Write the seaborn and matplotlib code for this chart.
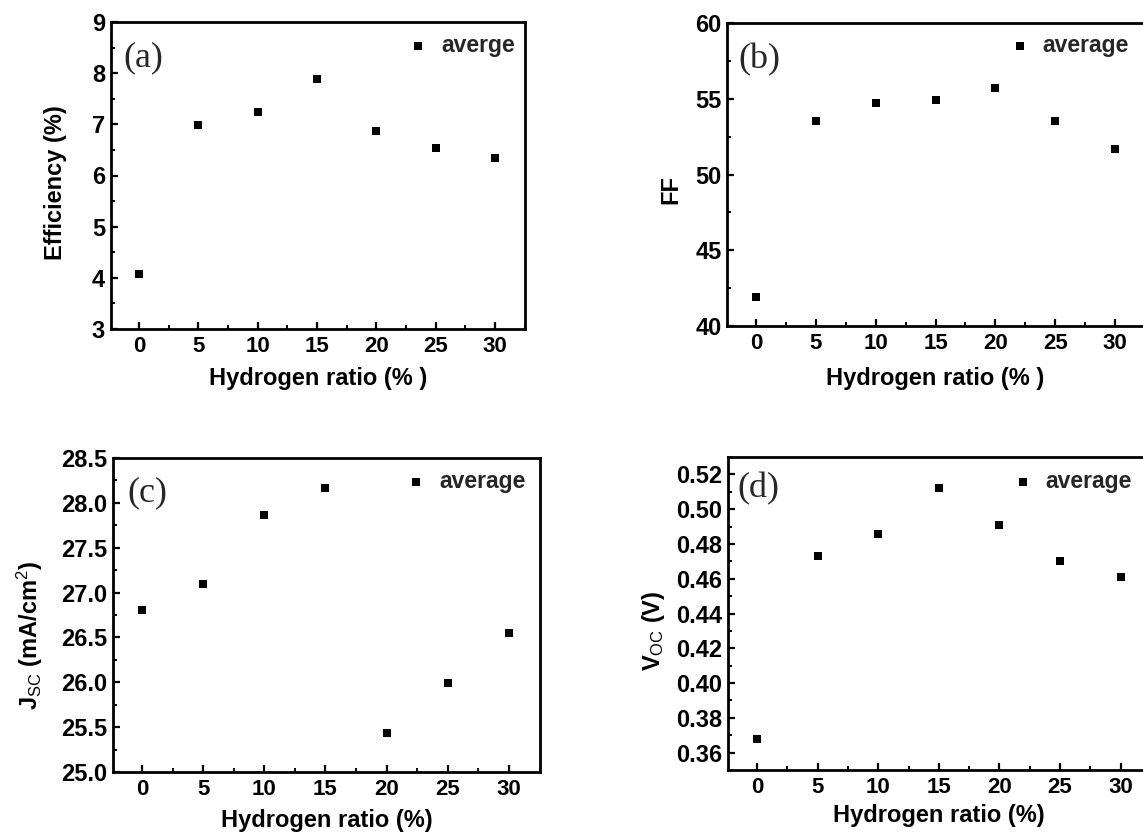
import numpy as np
import pandas as pd
import seaborn as sns
import matplotlib
matplotlib.use("Agg")
import matplotlib.pyplot as plt
from matplotlib.ticker import MultipleLocator, FormatStrFormatter

# ---------------- data ----------------
hydrogen = [0, 5, 10, 15, 20, 25, 30]
efficiency = [4.07, 6.98, 7.25, 7.89, 6.87, 6.53, 6.35]
fill_factor = [41.9, 53.5, 54.7, 54.9, 55.7, 53.5, 51.7]
jsc = [26.81, 27.10, 27.87, 28.17, 25.44, 25.99, 26.55]
voc = [0.368, 0.473, 0.486, 0.512, 0.491, 0.470, 0.461]

panel_tags = ["(a)", "(b)", "(c)", "(d)"]
legend_labels = ["averge", "average", "average", "average"]
xlabels = ["Hydrogen ratio (% )", "Hydrogen ratio (% )", "Hydrogen ratio (%)", "Hydrogen ratio (%)"]
ylabels = ["Efficiency (%)", "FF",
           r"$\mathbf{J}_{\rm SC}$ (mA/cm$^{\rm 2}$)",
           r"$\mathbf{V}_{\rm OC}$ (V)"]

sns.set_theme(style="white")
plt.rcParams["font.family"] = ["Liberation Sans", "DejaVu Sans"]
plt.rcParams["mathtext.fontset"] = "custom"
plt.rcParams["mathtext.rm"] = "Liberation Sans"
plt.rcParams["mathtext.bf"] = "Liberation Sans:bold"
plt.rcParams["mathtext.it"] = "Liberation Sans:italic"

W, H = 1143, 834
fig = plt.figure(figsize=(W / 100, H / 100), dpi=100)
fig.patch.set_facecolor("white")


def add_px_axes(left, right, top, bottom):
    return fig.add_axes([left / W, 1 - bottom / H, (right - left) / W, (bottom - top) / H])


panels = [
    dict(box=(110.5, 524.7, 22, 329), y=efficiency, ylim=(3, 9), major=1, minor=0.5, fmt="%d",
         leg=(0.715, 0.925), tag=(0.030, 0.883), ylc=(-0.133, 0.476), xlc=(0.501, -0.16)),
    dict(box=(727.3, 1145.0, 23, 326), y=fill_factor, ylim=(40, 60), major=5, minor=2.5, fmt="%d",
         leg=(0.673, 0.927), tag=(0.026, 0.878), ylc=(-0.135, 0.45), xlc=(0.497, -0.172)),
    dict(box=(112.6, 539.6, 458, 772), y=jsc, ylim=(25, 28.5), major=0.5, minor=0.25, fmt="%.1f",
         leg=(0.684, 0.924), tag=(0.034, 0.889), ylc=(-0.193, 0.436), xlc=(0.502, -0.153)),
    dict(box=(727.9, 1151.0, 457, 770), y=voc, ylim=(0.35, 0.53), major=0.02, minor=0.01, fmt="%.2f",
         leg=(0.670, 0.923), tag=(0.023, 0.898), ylc=(-0.176, 0.444), xlc=(0.499, -0.144)),
]

for i, p in enumerate(panels):
    ax = add_px_axes(*p["box"])
    df = pd.DataFrame({"x": hydrogen, "y": p["y"]})
    sns.scatterplot(data=df, x="x", y="y", marker="s", color="black", s=32,
                    edgecolor="black", linewidth=0, label=legend_labels[i], ax=ax)
    ax.set_xlim(-2.4, 32.5)
    ax.set_ylim(*p["ylim"])
    ax.xaxis.set_major_locator(MultipleLocator(5))
    ax.xaxis.set_minor_locator(MultipleLocator(2.5))
    ax.yaxis.set_major_locator(MultipleLocator(p["major"]))
    ax.yaxis.set_minor_locator(MultipleLocator(p["minor"]))
    ax.yaxis.set_major_formatter(FormatStrFormatter(p["fmt"]))
    ax.tick_params(which="both", direction="in", top=False, right=False,
                   bottom=True, left=True, colors="black")
    ax.tick_params(which="major", length=5, width=1.6, pad=5)
    ax.tick_params(which="minor", length=3, width=1.4)
    ax.tick_params(axis="x", which="major", labelsize=16)
    ax.tick_params(axis="y", which="major", labelsize=17, pad=4)
    for lab in ax.get_xticklabels() + ax.get_yticklabels():
        lab.set_fontweight("bold")
    for sp in ax.spines.values():
        sp.set_visible(True)
        sp.set_linewidth(2.0)
        sp.set_color("black")
    ax.set_xlabel(xlabels[i], fontsize=17, fontweight="bold", color="black", va="center")
    ax.set_ylabel(ylabels[i], fontsize=17, fontweight="bold", color="black", va="center")
    ax.xaxis.set_label_coords(*p["xlc"])
    ax.yaxis.set_label_coords(*p["ylc"])
    ax.text(p["tag"][0], p["tag"][1], panel_tags[i], transform=ax.transAxes,
            ha="left", va="center", fontsize=26, family=["Liberation Serif", "DejaVu Serif"])
    leg = ax.legend(loc="center left", bbox_to_anchor=p["leg"], frameon=False,
                    borderpad=0, borderaxespad=0, handlelength=1.0, handletextpad=0.5,
                    prop={"weight": "bold", "size": 16.5}, markerscale=1.0)
    ax.grid(False)
    ax.set_facecolor("white")

fig.savefig("out.png", dpi=100)
